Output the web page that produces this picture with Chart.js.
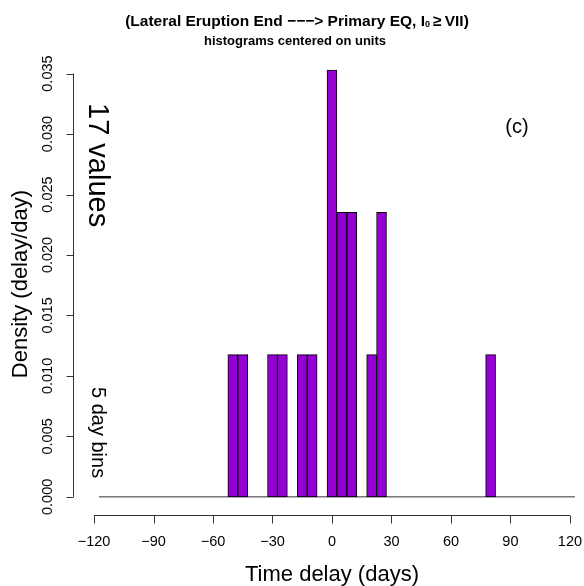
<!DOCTYPE html>
<html>
<head>
<meta charset="utf-8">
<script src="https://cdn.jsdelivr.net/npm/chart.js@4.4.0/dist/chart.umd.min.js"></script>
<style>
  body { margin: 0; background: #fff; }
  #wrap { width: 584px; height: 586px; }
</style>
</head>
<body>
<div id="wrap"><canvas id="histChart" width="584" height="586"></canvas></div>
<script>
// 5日ビン（中心値）と件数
const binCenters = [-50, -45, -30, -25, -15, -10, 0, 5, 10, 20, 25, 80];
const binCounts = [1, 1, 1, 1, 1, 1, 3, 2, 2, 1, 2, 1];
const binWidth = 5;
const nValues = 17;
const histRange = [-117.5, 122.5]; // 先頭と末尾のビン境界
const xTicks = [-120, -90, -60, -30, 0, 30, 60, 90, 120];
const yTicks = [0, 0.005, 0.010, 0.015, 0.020, 0.025, 0.030, 0.035];

const FONT = '"Liberation Sans", Arial, sans-serif';

function fmtX(v) {
  return v < 0 ? '\u2212' + Math.abs(v) : String(v);
}

// 軸・タイトル・注記をR風に描く
const rAxesPlugin = {
  id: 'rAxes',
  afterDraw(chart) {
    const ctx = chart.ctx;
    const xs = chart.scales.x;
    const ys = chart.scales.y;
    const area = chart.chartArea;
    ctx.save();
    ctx.strokeStyle = '#333';
    ctx.fillStyle = '#000';
    ctx.lineWidth = 1;

    // y軸
    const axX = area.left + 0.5;
    ctx.beginPath();
    ctx.moveTo(axX, ys.getPixelForValue(yTicks[0]));
    ctx.lineTo(axX, ys.getPixelForValue(yTicks[yTicks.length - 1]));
    yTicks.forEach(t => {
      const py = Math.round(ys.getPixelForValue(t)) + 0.5;
      ctx.moveTo(axX, py);
      ctx.lineTo(axX - 7, py);
    });
    ctx.stroke();
    ctx.font = '14.5px ' + FONT;
    ctx.textAlign = 'center';
    ctx.textBaseline = 'middle';
    yTicks.forEach(t => {
      const py = ys.getPixelForValue(t);
      ctx.save();
      ctx.translate(48, py);
      ctx.rotate(-Math.PI / 2);
      ctx.fillText(t.toFixed(3), 0, 0);
      ctx.restore();
    });

    // x軸
    const axY = area.bottom + 0.5;
    ctx.beginPath();
    ctx.moveTo(xs.getPixelForValue(xTicks[0]), axY);
    ctx.lineTo(xs.getPixelForValue(xTicks[xTicks.length - 1]), axY);
    xTicks.forEach(t => {
      const px = Math.round(xs.getPixelForValue(t)) + 0.5;
      ctx.moveTo(px, axY);
      ctx.lineTo(px, axY + 8);
    });
    ctx.stroke();
    xTicks.forEach(t => {
      ctx.fillText(fmtX(t), xs.getPixelForValue(t), 542);
    });

    // 軸タイトル
    ctx.font = '22px ' + FONT;
    ctx.fillText('Time delay (days)', xs.getPixelForValue(0), 575);
    ctx.save();
    ctx.translate(21, (area.top + area.bottom) / 2);
    ctx.rotate(-Math.PI / 2);
    ctx.fillText('Density (delay/day)', 0, 0);
    ctx.restore();

    // 注記（縦書き・時計回り）
    ctx.textAlign = 'left';
    ctx.font = '29px ' + FONT;
    ctx.save();
    ctx.translate(97, 103);
    ctx.rotate(Math.PI / 2);
    ctx.fillText(nValues + ' values', 0, 0);
    ctx.restore();
    ctx.font = '20px ' + FONT;
    ctx.save();
    ctx.translate(98, 387);
    ctx.rotate(Math.PI / 2);
    ctx.fillText(binWidth + ' day bins', 0, 0);
    ctx.restore();
    ctx.textAlign = 'center';
    ctx.fillText('(c)', 517, 127);

    // タイトル（下付き文字入り）
    const parts = [
      { t: '(Lateral Eruption End \u2212\u2212\u2212> Primary EQ, I', f: 'bold 15.5px ' + FONT, dy: 0 },
      { t: '0', f: 'bold 9px ' + FONT, dy: 3 },
      { t: '\u2009\u2265\u2009VII)', f: 'bold 15.5px ' + FONT, dy: 0 }
    ];
    let total = 0;
    parts.forEach(p => { ctx.font = p.f; p.w = ctx.measureText(p.t).width; total += p.w; });
    let cx = 297 - total / 2;
    ctx.textAlign = 'left';
    parts.forEach(p => {
      ctx.font = p.f;
      ctx.fillText(p.t, cx, 22 + p.dy);
      cx += p.w;
    });
    ctx.textAlign = 'center';
    ctx.font = 'bold 13px ' + FONT;
    ctx.fillText('histograms centered on units', 295, 41);

    ctx.restore();
  }
};

function renderHistogram() {
  const ctx = document.getElementById('histChart').getContext('2d');
  new Chart(ctx, {
    type: 'bar',
    data: {
      datasets: [{
        type: 'bar',
        data: binCenters.map((c, i) => ({ x: c, y: binCounts[i] / (nValues * binWidth) })),
        backgroundColor: '#9400D3',
        borderColor: '#000',
        borderWidth: 1,
        borderSkipped: false,
        barPercentage: 1,
        categoryPercentage: 1,
        order: 1
      }, {
        type: 'line',
        data: histRange.map(v => ({ x: v, y: 0 })),
        borderColor: '#333',
        borderWidth: 1,
        pointRadius: 0,
        order: 2
      }]
    },
    options: {
      responsive: false,
      animation: false,
      layout: { padding: { left: 73, right: 0, top: 53, bottom: 71 } },
      scales: {
        x: { type: 'linear', offset: false, min: -130.6, max: 127.1, display: false, ticks: { stepSize: 30 } },
        y: { min: -0.0015, max: 0.0367, display: false }
      },
      plugins: {
        legend: { display: false },
        tooltip: { enabled: false }
      }
    },
    plugins: [rAxesPlugin]
  });
}

document.addEventListener('DOMContentLoaded', renderHistogram);
</script>
</body>
</html>
